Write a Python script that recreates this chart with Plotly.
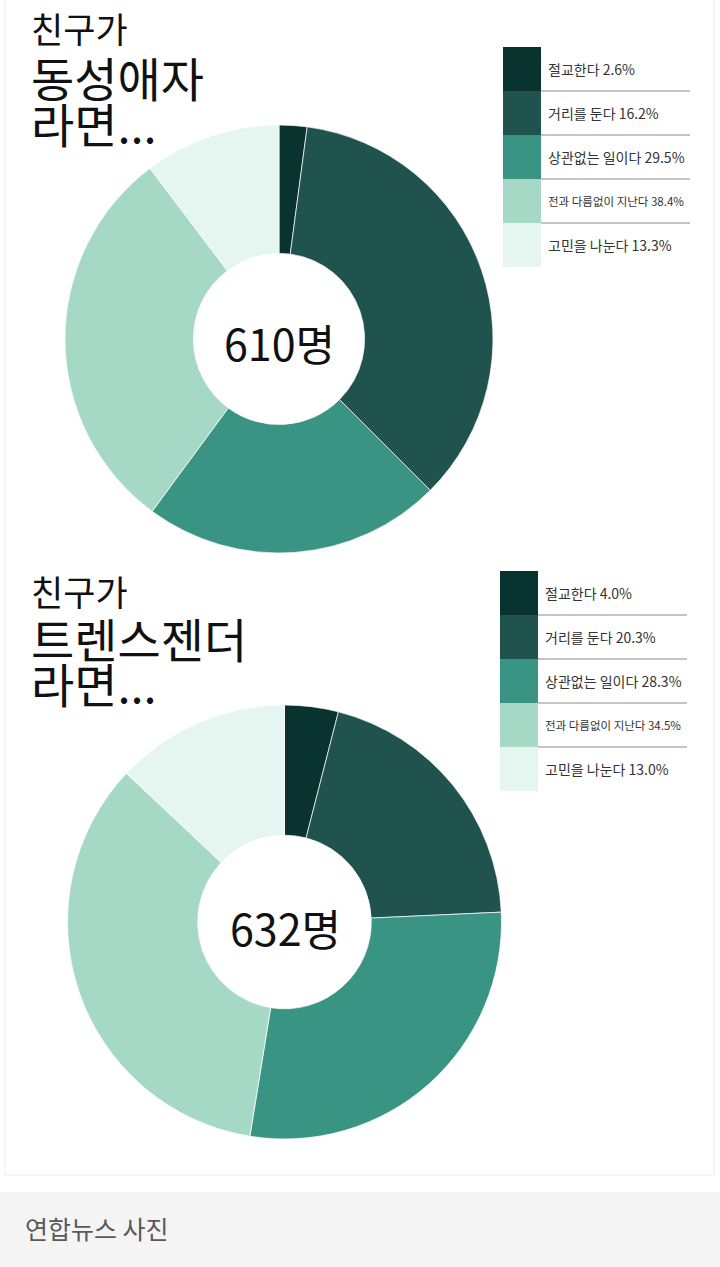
import plotly.graph_objects as go

# ---- data ----
categories = ["절교한다", "거리를 둔다", "상관없는 일이다", "전과 다름없이 지난다", "고민을 나눈다"]
# top chart (동성애자) - slice sizes as drawn in the picture
gay_slices = [2.1, 35.4, 22.6, 29.6, 10.3]
gay_legend_pct = ["2.6%", "16.2%", "29.5%", "38.4%", "13.3%"]
gay_total = "610명"
# bottom chart (트렌스젠더)
trans_slices = [4.0, 20.3, 28.3, 34.5, 13.0]
trans_legend_pct = ["4.0%", "20.3%", "28.3%", "34.5%", "13.0%"]
trans_total = "632명"

colors = ["#08332f", "#20534e", "#3a9483", "#a5d9c5", "#e5f5f0"]

W, H = 720, 1267
FONT = "Noto Sans CJK KR"

fig = go.Figure()

def pie(values, cx, cy, r):
    return go.Pie(
        labels=categories, values=values, sort=False, direction="clockwise",
        rotation=0, hole=0.4, textinfo="none", hoverinfo="label+value",
        marker=dict(colors=colors, line=dict(color="rgba(255,255,255,0.7)", width=1)),
        domain=dict(x=[(cx - r) / W, (cx + r) / W], y=[1 - (cy + r) / H, 1 - (cy - r) / H]),
        showlegend=False,
    )

fig.add_trace(pie(gay_slices, 279, 339, 214))
fig.add_trace(pie(trans_slices, 284.5, 922, 217))

# invisible pixel axes for decorations
fig.add_trace(go.Scatter(x=[0, W], y=[0, H], mode="markers", marker=dict(opacity=0), showlegend=False, hoverinfo="skip"))

shapes = []
annotations = []

# card and caption band
shapes.append(dict(type="rect", x0=5, x1=714, y0=-10, y1=1175, line=dict(color="#ececec", width=1), fillcolor="white", layer="below"))
shapes.append(dict(type="rect", x0=0, x1=W, y0=1192, y1=H, line=dict(width=0), fillcolor="#f4f4f4", layer="below"))
annotations.append(dict(x=23, y=1228, text="연합뉴스 사진", showarrow=False, xanchor="left", yanchor="middle",
                        font=dict(family=FONT, size=25, color="#595959")))

def title(lines, ys, sizes):
    for t, y, s in zip(lines, ys, sizes):
        annotations.append(dict(x=29, y=y, text=t, showarrow=False, xanchor="left", yanchor="middle",
                                font=dict(family=FONT, size=s, color="#111111")))

title(["친구가", "동성애자", "라면..."], [27, 76, 122], [35, 47, 47])
title(["친구가", "트렌스젠더", "라면..."], [590, 637, 682], [35, 47, 47])

def legend(x0, y0, pcts):
    step = 44
    for i, (cat, pct) in enumerate(zip(categories, pcts)):
        ya, yb = y0 + i * step, y0 + (i + 1) * step
        shapes.append(dict(type="rect", x0=x0, x1=x0 + 38, y0=ya, y1=yb, line=dict(width=0), fillcolor=colors[i]))
        if i < len(categories) - 1:
            shapes.append(dict(type="line", x0=x0 + 38, x1=x0 + 187, y0=yb, y1=yb, line=dict(color="#8a8a8a", width=1)))
        annotations.append(dict(x=x0 + 43, y=(ya + yb) / 2, text=f"{cat} {pct}", showarrow=False,
                                xanchor="left", yanchor="middle",
                                font=dict(family=FONT, size=14 if len(cat) < 10 else 11.5, color="#333333")))

legend(503, 47, gay_legend_pct)
legend(500, 571, trans_legend_pct)

annotations.append(dict(x=279, y=342, text=gay_total, showarrow=False, xanchor="center", yanchor="middle",
                        font=dict(family=FONT, size=43, color="#111111")))
annotations.append(dict(x=285, y=927, text=trans_total, showarrow=False, xanchor="center", yanchor="middle",
                        font=dict(family=FONT, size=43, color="#111111")))

fig.update_layout(
    width=W, height=H, margin=dict(l=0, r=0, t=0, b=0),
    paper_bgcolor="white", plot_bgcolor="rgba(0,0,0,0)",
    xaxis=dict(range=[0, W], visible=False, fixedrange=True),
    yaxis=dict(range=[H, 0], visible=False, fixedrange=True),
    shapes=shapes, annotations=annotations,
)

fig.write_html("out.html", config={"displayModeBar": False},
               post_script="document.body.style.margin='0';document.body.style.overflow='hidden';")
